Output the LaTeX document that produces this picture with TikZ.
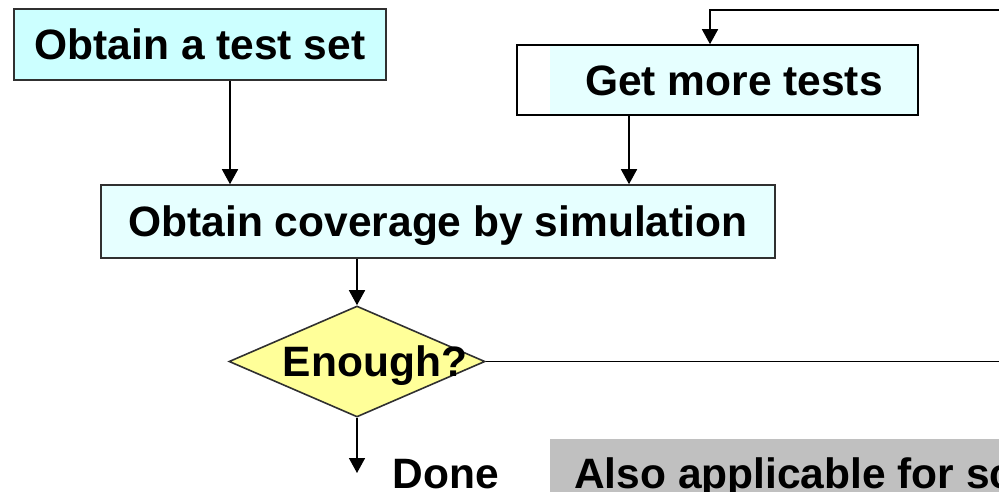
\documentclass[tikz,border=0pt]{standalone}
\usepackage{fontspec}
\setmainfont{Liberation Sans}
\usetikzlibrary{shapes.geometric,arrows.meta}
\definecolor{cyanA}{HTML}{CCFFFF}
\definecolor{cyanB}{HTML}{E6FFFF}
\definecolor{yel}{HTML}{FFFF99}
\definecolor{greyA}{HTML}{C0C0C0}
\definecolor{edge}{HTML}{303030}
\begin{document}
\begin{tikzpicture}[x=1pt,y=-1pt,
  lbl/.style={font=\fontsize{42.5}{50}\selectfont\bfseries, text height=30.4pt, text depth=0pt},
  box/.style={lbl, draw=edge, line width=1.6pt, rectangle, inner sep=0pt},
  conn/.style={line width=1.6pt, -{Triangle[length=15pt,width=16pt]}},
  wire/.style={line width=1.6pt}]
\useasboundingbox (0,0) rectangle (999,491);
\clip (0,0) rectangle (999,491);
\node[box, fill=cyanA, minimum width=372pt, minimum height=71pt] (obtain) at (200,44.5) {Obtain a test set};
\node[lbl, fill=cyanB, inner sep=0pt, minimum width=368pt, minimum height=70pt] (more) at (734,80) {Get more tests};
\node[draw=black, line width=1.6pt, inner sep=0pt, minimum width=401pt, minimum height=70pt] (moreframe) at (717.5,80) {};
\node[box, fill=cyanB, minimum width=674pt, minimum height=73pt] (cover) at (438,221.5) {Obtain coverage by simulation};
\node[diamond, draw=edge, fill=yel, line width=1.6pt, inner sep=0pt, minimum width=256pt, minimum height=111pt] (enough) at (357,361.5) {};
\node[lbl, inner sep=0pt] (enoughtxt) at ([xshift=18pt]enough.center) {Enough?};
\node[lbl, inner sep=0pt] (done) at (446,473.3) {Done};
\node[lbl, fill=greyA, inner xsep=24pt, inner ysep=19pt, anchor=north west] (also) at (550,439) {Also applicable for sc};
\coordinate (xa) at (230,0);
\coordinate (xb) at (629,0);
\coordinate (xc) at (710,0);
\coordinate (topright) at (1010,10);
\coordinate (rightmid) at (1010,361.5);
\coordinate (doneend) at (357,473);
\draw[conn] (obtain.south -| xa) -- (cover.north -| xa);
\draw[conn] (more.south -| xb) -- (cover.north -| xb);
\draw[conn] (topright) -- (topright -| xc) -- (moreframe.north -| xc);
\draw[conn] (cover.south -| enough.north) -- (enough.north);
\draw[wire] (enough.east) -- (rightmid);
\draw[conn] (enough.south) -- (doneend);
\end{tikzpicture}
\end{document}
